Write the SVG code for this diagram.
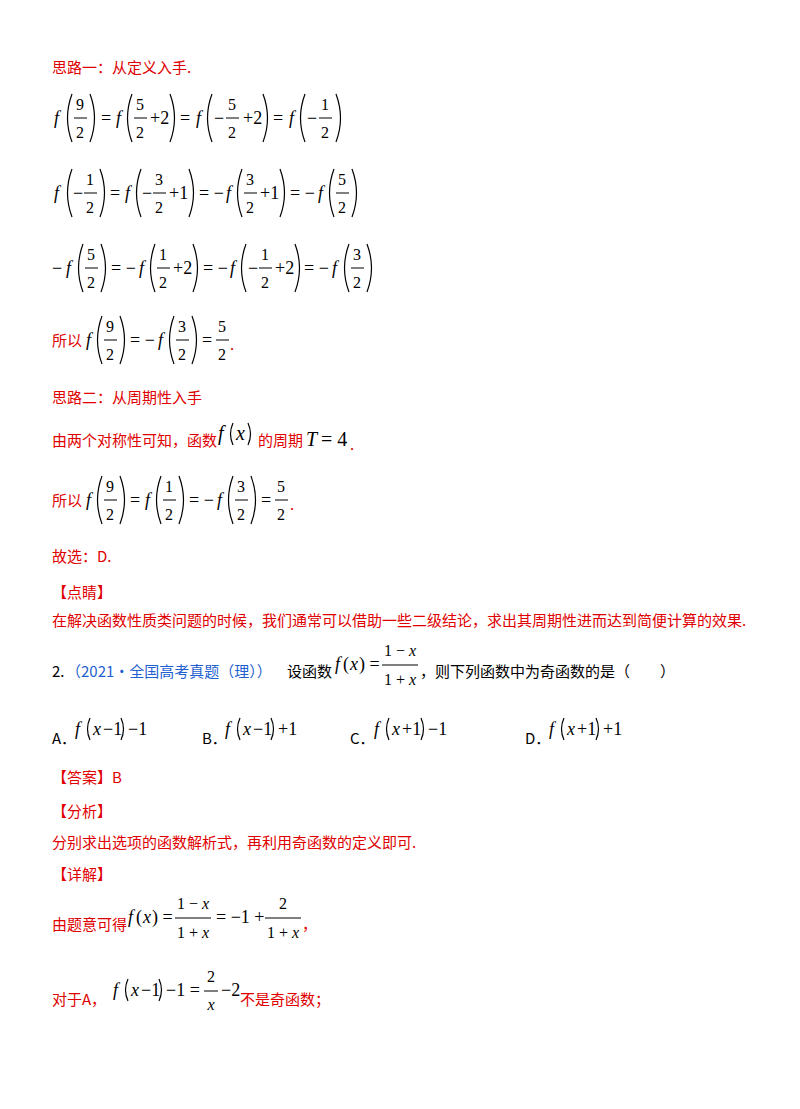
<svg xmlns="http://www.w3.org/2000/svg" width="800" height="1109" viewBox="0 0 800 1109">
<style>
.r{font-family:"Noto Sans CJK SC","Liberation Serif",serif;font-size:15px;fill:#e00000}
.k{font-family:"Noto Sans CJK SC","Liberation Serif",serif;font-size:15px;fill:#000}
.b{font-family:"Noto Sans CJK SC","Liberation Serif",serif;font-size:15px;fill:#1f5fd0}
.m{font-family:"Liberation Serif",serif;font-size:18px;font-style:italic;fill:#000}
.n{font-family:"Liberation Serif",serif;font-size:18px;fill:#000}
.s{font-family:"Liberation Serif",serif;font-size:16px;fill:#000;text-anchor:middle}
.p{fill:none;stroke:#000;stroke-width:1.2}
.bar{stroke:#000;stroke-width:1}
</style>
<defs>
<path id="lp" class="p" d="M8,-24 Q-1,0 8,24"/>
<path id="rp" class="p" d="M0,-24 Q9,0 0,24"/>
<path id="lps" class="p" d="M5,-11 Q0,0 5,11"/>
<path id="rps" class="p" d="M0,-11 Q5,0 0,11"/>
</defs>
<g id="text1">
<text class="r" x="52" y="73">思路一：从定义入手.</text>
</g>
<g id="line1">
<text class="m" x="54" y="124">f</text><use href="#lp" x="64" y="118"/>
<text class="s" x="80" y="110">9</text><line class="bar" x1="74" y1="118" x2="87" y2="118"/><text class="s" x="80" y="138">2</text>
<use href="#rp" x="90" y="118"/>
<text class="n" x="101" y="124">=</text><text class="m" x="116" y="124">f</text><use href="#lp" x="124" y="118"/>
<text class="s" x="140" y="110">5</text><line class="bar" x1="134" y1="118" x2="147" y2="118"/><text class="s" x="140" y="138">2</text>
<text class="n" x="150" y="124">+2</text><use href="#rp" x="170" y="118"/>
<text class="n" x="180" y="124">=</text><text class="m" x="196" y="124">f</text><use href="#lp" x="204" y="118"/>
<text class="n" x="214" y="124">−</text>
<text class="s" x="232" y="110">5</text><line class="bar" x1="226" y1="118" x2="239" y2="118"/><text class="s" x="232" y="138">2</text>
<text class="n" x="243" y="124">+2</text><use href="#rp" x="263" y="118"/>
<text class="n" x="273" y="124">=</text><text class="m" x="289" y="124">f</text><use href="#lp" x="297" y="118"/>
<text class="n" x="307" y="124">−</text>
<text class="s" x="325" y="110">1</text><line class="bar" x1="319" y1="118" x2="332" y2="118"/><text class="s" x="325" y="138">2</text>
<use href="#rp" x="336" y="118"/>
</g>
<g id="line2">
<text class="m" x="54" y="199">f</text><use href="#lp" x="64" y="193"/>
<text class="n" x="73" y="199">−</text>
<text class="s" x="90" y="185">1</text><line class="bar" x1="84" y1="193" x2="97" y2="193"/><text class="s" x="90" y="213">2</text>
<use href="#rp" x="100" y="193"/>
<text class="n" x="110" y="199">=</text><text class="m" x="125" y="199">f</text><use href="#lp" x="133" y="193"/>
<text class="n" x="142" y="199">−</text>
<text class="s" x="159" y="185">3</text><line class="bar" x1="153" y1="193" x2="166" y2="193"/><text class="s" x="159" y="213">2</text>
<text class="n" x="169" y="199">+1</text><use href="#rp" x="189" y="193"/>
<text class="n" x="199" y="199">= −</text><text class="m" x="226" y="199">f</text><use href="#lp" x="234" y="193"/>
<text class="s" x="250" y="185">3</text><line class="bar" x1="244" y1="193" x2="257" y2="193"/><text class="s" x="250" y="213">2</text>
<text class="n" x="260" y="199">+1</text><use href="#rp" x="280" y="193"/>
<text class="n" x="290" y="199">= −</text><text class="m" x="318" y="199">f</text><use href="#lp" x="326" y="193"/>
<text class="s" x="342" y="185">5</text><line class="bar" x1="336" y1="193" x2="349" y2="193"/><text class="s" x="342" y="213">2</text>
<use href="#rp" x="352" y="193"/>
</g>
<g id="line3">
<text class="n" x="52" y="274">−</text><text class="m" x="66" y="274">f</text><use href="#lp" x="75" y="268"/>
<text class="s" x="91" y="260">5</text><line class="bar" x1="85" y1="268" x2="98" y2="268"/><text class="s" x="91" y="288">2</text>
<use href="#rp" x="101" y="268"/>
<text class="n" x="111" y="274">= −</text><text class="m" x="139" y="274">f</text><use href="#lp" x="147" y="268"/>
<text class="s" x="163" y="260">1</text><line class="bar" x1="157" y1="268" x2="170" y2="268"/><text class="s" x="163" y="288">2</text>
<text class="n" x="173" y="274">+2</text><use href="#rp" x="193" y="268"/>
<text class="n" x="203" y="274">= −</text><text class="m" x="230" y="274">f</text><use href="#lp" x="238" y="268"/>
<text class="n" x="248" y="274">−</text>
<text class="s" x="265" y="260">1</text><line class="bar" x1="259" y1="268" x2="272" y2="268"/><text class="s" x="265" y="288">2</text>
<text class="n" x="275" y="274">+2</text><use href="#rp" x="295" y="268"/>
<text class="n" x="304" y="274">= −</text><text class="m" x="332" y="274">f</text><use href="#lp" x="341" y="268"/>
<text class="s" x="357" y="260">3</text><line class="bar" x1="351" y1="268" x2="364" y2="268"/><text class="s" x="357" y="288">2</text>
<use href="#rp" x="367" y="268"/>
</g>
<g id="line4">
<text class="r" x="52" y="346">所以</text>
<text class="m" x="86" y="346">f</text><use href="#lp" x="94" y="340"/>
<text class="s" x="110" y="332">9</text><line class="bar" x1="104" y1="340" x2="117" y2="340"/><text class="s" x="110" y="360">2</text>
<use href="#rp" x="120" y="340"/>
<text class="n" x="130" y="346">= −</text><text class="m" x="158" y="346">f</text><use href="#lp" x="166" y="340"/>
<text class="s" x="182" y="332">3</text><line class="bar" x1="176" y1="340" x2="189" y2="340"/><text class="s" x="182" y="360">2</text>
<use href="#rp" x="192" y="340"/>
<text class="n" x="202" y="346">=</text>
<text class="s" x="222" y="332">5</text><line class="bar" x1="216" y1="340" x2="229" y2="340"/><text class="s" x="222" y="360">2</text>
<text class="r" x="230" y="350">.</text>
</g>
<g id="text2">
<text class="r" x="52" y="403">思路二：从周期性入手</text>
<text class="r" x="52" y="446">由两个对称性可知，函数</text>
<text class="m" x="218" y="440" style="font-size:20px">f</text><use href="#lps" x="228" y="434"/><text class="m" x="236" y="440" style="font-size:20px">x</text><use href="#rps" x="248" y="434"/>
<text class="r" x="258" y="446">的周期</text>
<text class="m" x="306" y="446" style="font-size:20px">T</text><text class="n" x="321" y="446" style="font-size:20px">= 4</text>
<text class="r" x="350" y="450">.</text>
</g>
<g id="line5">
<text class="r" x="52" y="506">所以</text>
<text class="m" x="86" y="506">f</text><use href="#lp" x="94" y="500"/>
<text class="s" x="110" y="492">9</text><line class="bar" x1="104" y1="500" x2="117" y2="500"/><text class="s" x="110" y="520">2</text>
<use href="#rp" x="120" y="500"/>
<text class="n" x="130" y="506">=</text><text class="m" x="145" y="506">f</text><use href="#lp" x="153" y="500"/>
<text class="s" x="169" y="492">1</text><line class="bar" x1="163" y1="500" x2="176" y2="500"/><text class="s" x="169" y="520">2</text>
<use href="#rp" x="179" y="500"/>
<text class="n" x="189" y="506">= −</text><text class="m" x="217" y="506">f</text><use href="#lp" x="225" y="500"/>
<text class="s" x="241" y="492">3</text><line class="bar" x1="235" y1="500" x2="248" y2="500"/><text class="s" x="241" y="520">2</text>
<use href="#rp" x="251" y="500"/>
<text class="n" x="261" y="506">=</text>
<text class="s" x="281" y="492">5</text><line class="bar" x1="275" y1="500" x2="288" y2="500"/><text class="s" x="281" y="520">2</text>
<text class="r" x="290" y="510">.</text>
</g>
<g id="text3">
<text class="r" x="52" y="562">故选：D.</text>
<text class="r" x="52" y="598">【点睛】</text>
<text class="r" x="52" y="626">在解决函数性质类问题的时候，我们通常可以借助一些二级结论，求出其周期性进而达到简便计算的效果.</text>
</g>
<g id="q2">
<text class="k" x="52" y="677">2.</text>
<text class="b" x="66" y="677">（2021•全国高考真题（理））</text>
<text class="k" x="287" y="677">设函数</text>
<text class="m" x="335" y="670">f</text><text class="n" x="343" y="670">(</text><text class="m" x="350" y="670">x</text><text class="n" x="359" y="670">) =</text>
<text class="s" x="400" y="656">1 − <tspan font-style="italic">x</tspan></text><line class="bar" x1="382" y1="665" x2="418" y2="665"/><text class="s" x="400" y="685">1 + <tspan font-style="italic">x</tspan></text>
<text class="k" x="420" y="677">，则下列函数中为奇函数的是（　　）</text>
</g>
<g id="options">
<text class="k" x="52" y="744">A．</text>
<text class="m" x="75" y="735">f</text><use href="#lps" x="85" y="729"/><text class="m" x="93" y="735">x</text><text class="n" x="103" y="735">−1</text><use href="#rps" x="121" y="729"/><text class="n" x="128" y="735">−1</text>
<text class="k" x="202" y="744">B．</text>
<text class="m" x="225" y="735">f</text><use href="#lps" x="235" y="729"/><text class="m" x="243" y="735">x</text><text class="n" x="253" y="735">−1</text><use href="#rps" x="271" y="729"/><text class="n" x="278" y="735">+1</text>
<text class="k" x="350" y="744">C．</text>
<text class="m" x="374" y="735">f</text><use href="#lps" x="384" y="729"/><text class="m" x="392" y="735">x</text><text class="n" x="402" y="735">+1</text><use href="#rps" x="421" y="729"/><text class="n" x="428" y="735">−1</text>
<text class="k" x="525" y="744">D．</text>
<text class="m" x="549" y="735">f</text><use href="#lps" x="559" y="729"/><text class="m" x="567" y="735">x</text><text class="n" x="577" y="735">+1</text><use href="#rps" x="596" y="729"/><text class="n" x="603" y="735">+1</text>
</g>
<g id="text4">
<text class="r" x="52" y="783">【答案】B</text>
<text class="r" x="52" y="817">【分析】</text>
<text class="r" x="52" y="848">分别求出选项的函数解析式，再利用奇函数的定义即可.</text>
<text class="r" x="52" y="880">【详解】</text>
</g>
<g id="line6">
<text class="r" x="52" y="930">由题意可得</text>
<text class="m" x="128" y="923">f</text><text class="n" x="136" y="923">(</text><text class="m" x="143" y="923">x</text><text class="n" x="152" y="923">) =</text>
<text class="s" x="193" y="909">1 − <tspan font-style="italic">x</tspan></text><line class="bar" x1="175" y1="918" x2="211" y2="918"/><text class="s" x="193" y="938">1 + <tspan font-style="italic">x</tspan></text>
<text class="n" x="216" y="923">= −1 +</text>
<text class="s" x="283" y="909">2</text><line class="bar" x1="265" y1="918" x2="301" y2="918"/><text class="s" x="283" y="938">1 + <tspan font-style="italic">x</tspan></text>
<text class="r" x="302" y="930">，</text>
</g>
<g id="line7">
<text class="r" x="52" y="1005">对于A，</text>
<text class="m" x="113" y="996">f</text><use href="#lps" x="123" y="990"/><text class="m" x="131" y="996">x</text><text class="n" x="141" y="996">−1</text><use href="#rps" x="159" y="990"/><text class="n" x="166" y="996">−1 =</text>
<text class="s" x="211" y="982">2</text><line class="bar" x1="204" y1="991" x2="218" y2="991"/><text class="s" x="211" y="1010" font-style="italic">x</text>
<text class="n" x="221" y="996">−2</text>
<text class="r" x="240" y="1005">不是奇函数；</text>
</g>
</svg>
